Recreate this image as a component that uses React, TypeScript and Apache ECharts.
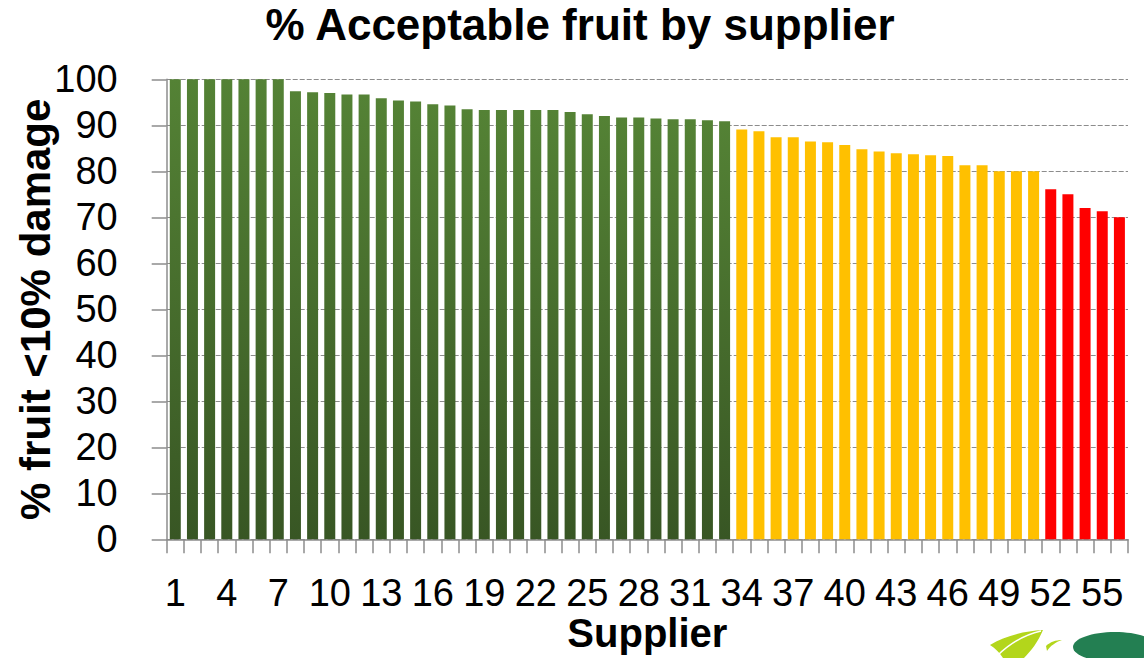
import React, { useEffect, useRef } from "react";
import * as echarts from "echarts";

const suppliers: string[] = [
  "1","2","3","4","5","6","7","8","9","10","11","12","13","14","15","16","17","18","19","20",
  "21","22","23","24","25","26","27","28","29","30","31","32","33","34","35","36","37","38","39","40",
  "41","42","43","44","45","46","47","48","49","50","51","52","53","54","55","56",
];

const acceptable: number[] = [
  100, 100, 100, 100, 100, 100, 100, 97.4, 97.2, 97.0, 96.7, 96.7, 95.9, 95.4, 95.2, 94.6, 94.3,
  93.5, 93.3, 93.3, 93.3, 93.3, 93.3, 92.9, 92.4, 92.0, 91.7, 91.7, 91.5, 91.3, 91.3, 91.1, 90.9,
  89.1, 88.7, 87.4, 87.4, 86.5, 86.3, 85.7, 84.8, 84.3, 83.9, 83.7, 83.5, 83.3, 81.3, 81.3, 80.0, 80.0, 80.0,
  76.1, 75.0, 72.0, 71.3, 70.0,
];

const GOOD_MIN = 90;
const OK_MIN = 80;
const yTicks = { min: 0, max: 100, interval: 10 };

const FONT = "'Liberation Sans', Arial, sans-serif";

const LEAF_D =
  "M990 645 C1004 636 1024 631 1043 630 C1038 642 1031 651 1024 658 L1003 658 C999 652 995 648 990 645 Z";
const SLIVER_D = "M1046 646 C1050 642 1056 640 1062 640 C1056 642 1050 646 1047 651 Z";

let shapesRegistered = false;
function registerShapes() {
  if (shapesRegistered) return;
  echarts.graphic.registerShape("leafShape", echarts.graphic.extendPath(LEAF_D, {}));
  echarts.graphic.registerShape("sliverShape", echarts.graphic.extendPath(SLIVER_D, {}));
  shapesRegistered = true;
}

function barColor(v: number) {
  if (v >= GOOD_MIN) {
    return new echarts.graphic.LinearGradient(0, 0, 0, 1, [
      { offset: 0, color: "#548235" },
      { offset: 1, color: "#385624" },
    ]);
  }
  if (v >= OK_MIN) return "#FFC000";
  return "#FF0000";
}

export default function App() {
  const ref = useRef<HTMLDivElement>(null);

  useEffect(() => {
    if (!ref.current) return;
    registerShapes();
    const chart = echarts.init(ref.current, null, { renderer: "svg" });
    const gray = "#8c8c8c";
    chart.setOption({
      animation: false,
      backgroundColor: "#ffffff",
      textStyle: { fontFamily: FONT },
      title: {
        text: "% Acceptable fruit by supplier",
        left: 580,
        top: 2,
        textAlign: "center",
        padding: 0,
        textStyle: { fontSize: 44, fontWeight: "bold", color: "#000", fontFamily: FONT },
      },
      grid: {
        left: 166.7,
        right: 16,
        top: 79.3,
        bottom: 118.7,
        containLabel: false,
        outerBoundsMode: "none",
      },
      xAxis: {
        type: "category",
        data: suppliers,
        name: "Supplier",
        nameLocation: "middle",
        nameGap: 74,
        nameMoveOverlap: false,
        nameTextStyle: { fontSize: 40, fontWeight: "bold", color: "#000", fontFamily: FONT },
        axisLine: { show: true, lineStyle: { color: gray, width: 1.5 } },
        axisTick: { show: true, interval: 0, length: 14, lineStyle: { color: gray, width: 1.5 } },
        axisLabel: { interval: 2, fontSize: 38, color: "#000", margin: 35, fontFamily: FONT },
        splitLine: { show: false },
      },
      yAxis: {
        type: "value",
        min: yTicks.min,
        max: yTicks.max,
        interval: yTicks.interval,
        name: "% fruit <10% damage",
        nameLocation: "middle",
        nameGap: 110,
        nameMoveOverlap: false,
        nameTextStyle: { fontSize: 42, fontWeight: "bold", color: "#000", fontFamily: FONT },
        axisLine: { show: true, lineStyle: { color: gray, width: 1.5 } },
        axisTick: { show: true, length: 15, lineStyle: { color: gray, width: 1.5 } },
        axisLabel: { fontSize: 38, color: "#000", margin: 49, fontFamily: FONT },
        splitLine: { show: true, lineStyle: { color: gray, type: [5, 2], width: 1.2 } },
      },
      series: [
        {
          type: "bar",
          data: acceptable.map((v) => ({ value: v, itemStyle: { color: barColor(v) } })),
          barCategoryGap: "36%",
        },
      ],
      graphic: [
        { type: "leafShape", x: 0, y: 0, style: { fill: "#B3D61B" }, silent: true },
        {
          type: "bezierCurve",
          shape: { x1: 997, y1: 656, x2: 1041, y2: 631, cpx1: 1012, cpy1: 641, cpx2: 1028, cpy2: 634 },
          style: { stroke: "#ffffff", lineWidth: 1.5, fill: null },
          silent: true,
        },
        { type: "sliverShape", x: 0, y: 0, style: { fill: "#B3D61B" }, silent: true },
        {
          type: "ellipse",
          shape: { cx: 1115, cy: 647, rx: 42, ry: 15 },
          style: { fill: "#237F52" },
          silent: true,
        },
      ],
    });
    return () => chart.dispose();
  }, []);

  return (
    <div
      ref={ref}
      style={{ position: "fixed", left: 0, top: 0, width: 1144, height: 658, background: "#fff" }}
    />
  );
}
